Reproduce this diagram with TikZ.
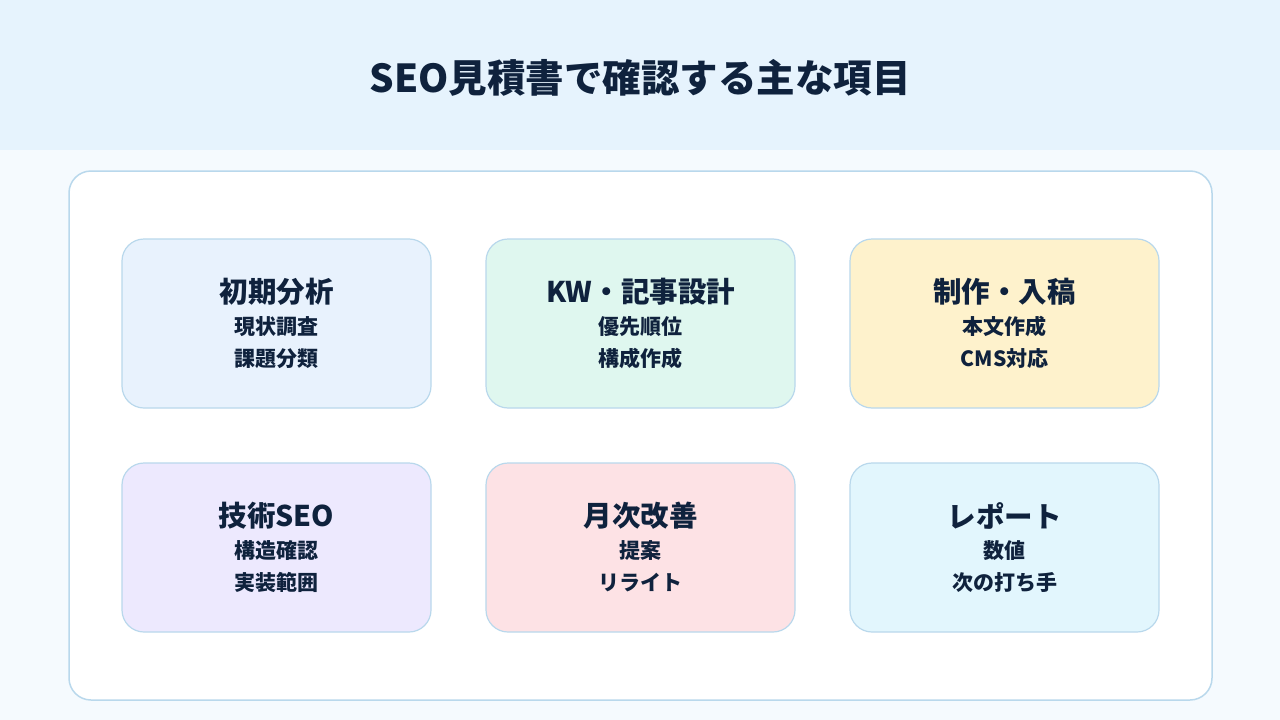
\documentclass[tikz,border=0pt]{standalone}
\usepackage{fontspec}
\setmainfont{Noto Sans CJK JP}
\usepackage{xcolor}
\usetikzlibrary{positioning}

\definecolor{headbg}{HTML}{E6F3FD}
\definecolor{pagebg}{HTML}{F5FAFE}
\definecolor{edge}{HTML}{B9D8EC}
\definecolor{ink}{HTML}{0F223D}
\definecolor{cblue}{HTML}{E8F2FD}
\definecolor{cmint}{HTML}{DFF7EF}
\definecolor{ccream}{HTML}{FEF2CC}
\definecolor{clav}{HTML}{EDE9FE}
\definecolor{cpink}{HTML}{FDE2E5}
\definecolor{ccyan}{HTML}{E2F6FD}

\begin{document}
\begin{tikzpicture}[
  x=1pt, y=-1pt,
  every node/.style={text=ink, inner sep=0pt},
  panel/.style={draw=edge, line width=1.5pt, fill=white, rounded corners=22pt,
                minimum width=1143pt, minimum height=529pt},
  card/.style ={draw=edge, line width=1.2pt, rounded corners=22pt,
                minimum width=309pt, minimum height=169pt},
  heading/.style={font=\fontsize{38.5}{42}\selectfont\bfseries},
  cardhead/.style={font=\fontsize{28.5}{32}\selectfont\bfseries},
  cardsub/.style ={font=\fontsize{21}{24}\selectfont\bfseries}
]

%% ---- Background -------------------------------------------------------
\fill[pagebg] (0,0) rectangle (1280,720);
\fill[headbg] (0,0) rectangle (1280,150);
\useasboundingbox (0,0) rectangle (1280,720);

%% ---- Title -------------------------------------------------------------
\node[heading] (title) at (640,78) {SEO見積書で確認する主な項目};

%% ---- Panel -------------------------------------------------------------
\node[panel] (panel) at (640.5,435.5) {};

%% ---- Cards, row 1 ------------------------------------------------------
\node[card, fill=cblue]  (c1) at (276.5,323.5) {};
\node[card, fill=cmint]  (c2) at (640.5,323.5) {};
\node[card, fill=ccream] (c3) at (1004.5,323.5) {};

%% ---- Cards, row 2 ------------------------------------------------------
\node[card, fill=clav]   (c4) at (276.5,547.5) {};
\node[card, fill=cpink]  (c5) at (640.5,547.5) {};
\node[card, fill=ccyan]  (c6) at (1004.5,547.5) {};

%% ---- Card texts --------------------------------------------------------
\node[cardhead] (h1) at ([yshift=32pt]c1.center) {初期分析};
\node[cardsub]  (s1a) at ([yshift=-3pt]c1.center) {現状調査};
\node[cardsub]  (s1b) at ([yshift=-35pt]c1.center) {課題分類};

\node[cardhead] (h2) at ([yshift=32pt]c2.center) {KW・記事設計};
\node[cardsub]  (s2a) at ([yshift=-3pt]c2.center) {優先順位};
\node[cardsub]  (s2b) at ([yshift=-35pt]c2.center) {構成作成};

\node[cardhead] (h3) at ([yshift=32pt]c3.center) {制作・入稿};
\node[cardsub]  (s3a) at ([yshift=-3pt]c3.center) {本文作成};
\node[cardsub]  (s3b) at ([yshift=-35pt]c3.center) {CMS対応};

\node[cardhead] (h4) at ([yshift=32pt]c4.center) {技術SEO};
\node[cardsub]  (s4a) at ([yshift=-3pt]c4.center) {構造確認};
\node[cardsub]  (s4b) at ([yshift=-35pt]c4.center) {実装範囲};

\node[cardhead] (h5) at ([yshift=32pt]c5.center) {月次改善};
\node[cardsub]  (s5a) at ([yshift=-3pt]c5.center) {提案};
\node[cardsub]  (s5b) at ([yshift=-35pt]c5.center) {リライト};

\node[cardhead] (h6) at ([yshift=32pt]c6.center) {レポート};
\node[cardsub]  (s6a) at ([yshift=-3pt]c6.center) {数値};
\node[cardsub]  (s6b) at ([yshift=-35pt]c6.center) {次の打ち手};

\end{tikzpicture}
\end{document}
